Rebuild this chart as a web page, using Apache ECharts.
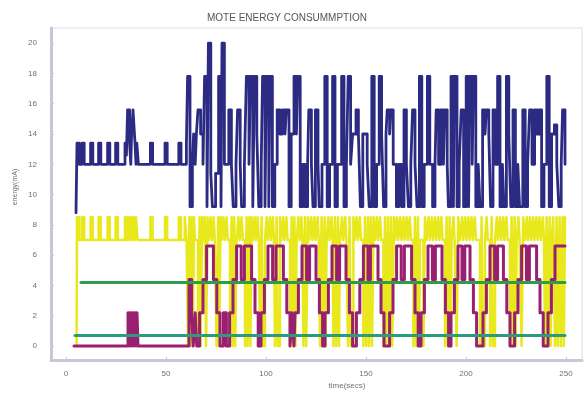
<!DOCTYPE html>
<html>
<head>
<meta charset="utf-8">
<script src="https://cdn.jsdelivr.net/npm/echarts@6/dist/echarts.min.js"></script>
<style>
  html, body { margin: 0; padding: 0; background: #fff; }
  #chart { width: 584px; height: 394px; }
</style>
</head>
<body>
<div id="chart"></div>
<script>
// tick labels
const xTicks = [0, 50, 100, 150, 200, 250];
const yTicks = [0, 2, 4, 6, 8, 10, 12, 14, 16, 18, 20];

// [time (s), energy (mA)] – value holds until the next point
const blueSteps = [
  [5, 8.8], [5.5, 13.4], [6.6, 12], [8, 13.4], [9.1, 12], [12.3, 13.4], [13.4, 12],
  [16.3, 13.4], [17.4, 12], [20.8, 13.4], [21.9, 12], [24.8, 13.4], [25.9, 12],
  [29.5, 13.4], [30.2, 12.6], [30.8, 15.6], [31.8, 13.4], [32.4, 12], [32.8, 14],
  [33.5, 15.6], [34.5, 13.4], [35, 12], [35.4, 13.4], [36.2, 12],
  [42.2, 13.4], [43.3, 12], [49.5, 13.4], [50.6, 12], [56.4, 13.4], [57.5, 12],
  [60.2, 13.4], [60.8, 17.8], [62, 9.2], [63.2, 12], [63.8, 14], [64.6, 12], [65.2, 14],
  [66, 15.6], [67.3, 14], [68.5, 12], [69.3, 17.8], [70.5, 9.2], [71.2, 20], [72.4, 11.4],
  [73.2, 9.2], [74.8, 11.4], [76.3, 17.8], [77.5, 9.2], [78, 20], [79.2, 12],
  [81.4, 15.6], [82.7, 12], [83.6, 9.2], [85, 12], [85.8, 15.6], [87.1, 12], [87.8, 9.2],
  [89.2, 12], [90.2, 17.8], [91.5, 12], [92.2, 17.8], [93.4, 9.2], [94.2, 17.8], [95.4, 14],
  [96.4, 9.2], [97.6, 12], [98.3, 17.8], [99.5, 9.2], [100.2, 17.8], [101.4, 9.2],
  [102, 17.8], [103.2, 9.2], [104.4, 12], [105.6, 15.6], [106.9, 14], [108.2, 15.6],
  [109.5, 14], [110.2, 15.6], [111.5, 9.2], [112.6, 14], [114, 17.8], [115.2, 14],
  [115.9, 17.8], [117.1, 9.2], [118.4, 12], [119.5, 9.2], [120.8, 12], [121.4, 15.6],
  [122.7, 12], [123.5, 9.2], [124.7, 15.6], [126, 12], [126.6, 9.2], [128, 12],
  [129.4, 17.8], [130.6, 9.2], [131.8, 12], [133.3, 17.8], [134.5, 9.2], [135.7, 12],
  [137.8, 17.8], [139, 9.2], [140.2, 12], [141.1, 17.8], [142.3, 12], [143.3, 14],
  [145, 15.6], [146.2, 14], [147.2, 9.2], [148.4, 14], [150.6, 12], [151.6, 9.2],
  [152.9, 17.8], [154.1, 9.2], [155.3, 12], [156.6, 17.8], [157.8, 14], [158.8, 9.2],
  [160, 14], [160.6, 15.6], [161.8, 14], [162.4, 15.6], [163.6, 12], [165.2, 9.2],
  [166.4, 12], [167.8, 9.2], [169, 15.6], [170.2, 12], [171.2, 9.2], [172.4, 12],
  [173.3, 15.6], [174.5, 12], [175.5, 9.2], [176.7, 17.8], [177.9, 9.2], [179.1, 12],
  [180.7, 17.8], [181.9, 12], [183.3, 9.2], [184.5, 12], [185.1, 15.6], [186.3, 12],
  [187.5, 15.6], [188.7, 12], [189.4, 15.6], [190.6, 12], [191.2, 9.2], [192.5, 17.8],
  [193.7, 9.2], [194.3, 17.8], [195.5, 9.2], [196.6, 12], [197.6, 15.6], [198.8, 9.2],
  [200.1, 17.8], [201.3, 9.2], [201.9, 17.8], [203.1, 12], [203.7, 17.8], [204.9, 9.2],
  [206.1, 12], [207, 9.2], [208.3, 15.6], [209.5, 14], [210.2, 15.6], [211.4, 14],
  [212.3, 9.2], [213.5, 15.6], [214.7, 12], [215.8, 17.8], [217, 9.2], [218.2, 12],
  [219, 9.2], [220.2, 17.8], [221.4, 14], [222.4, 9.2], [223.5, 15.6], [224.7, 9.2],
  [225.9, 12], [226.8, 9.2], [228.4, 15.6], [229.6, 9.2], [230.8, 12], [231.8, 15.6],
  [233, 12], [234.3, 15.6], [235.5, 14], [236.6, 15.6], [237.8, 9.2], [239, 12],
  [240.4, 17.8], [241.6, 9.2], [242.8, 14], [244.2, 14.6], [245.4, 12], [246.4, 9.2],
  [247.6, 12], [248.3, 15.6], [249.5, 12]
];

const yellowSteps = [
  [5.3, 0], [5.5, 8.5], [6.6, 7], [8, 8.5], [9.1, 7], [12.3, 8.5], [13.4, 7], [16.3, 8.5],
  [17.4, 7], [20.8, 8.5], [21.9, 7], [24.8, 8.5], [25.9, 7], [29.5, 8.5], [30.1, 7], [30.6, 8.5],
  [31.2, 7], [31.7, 8.5], [32.3, 7], [32.8, 8.5], [33.4, 7], [33.9, 8.5], [34.5, 7], [35, 8.5],
  [35.8, 7], [42.2, 8.5], [43.3, 7], [49.5, 8.5], [50.6, 7], [56.4, 8.5], [57.5, 7],
  [59.4, 8.5], [60.3, 7],
  [61, 0], [61.7, 8.5], [62.2, 0], [62.9, 8.5], [63.4, 0], [64, 8.5], [64.5, 7],
  [66, 0], [66.8, 8.5], [67.3, 0], [68.1, 8.5], [68.7, 7],
  [69.4, 8.5], [70, 0], [70.8, 8.5], [71.4, 7], [72.3, 8.5], [72.9, 7], [73.8, 8.5], [74.4, 7],
  [75.3, 0], [76.1, 8.5], [76.6, 0], [77.3, 8.5], [77.8, 7],
  [78.7, 8.5], [79.3, 7], [80.3, 8.5], [80.9, 7],
  [82, 0], [82.8, 8.5], [83.3, 0], [84.1, 8.5], [84.6, 0], [85.3, 7],
  [86.2, 8.5], [86.8, 7], [87.8, 8.5], [88.4, 7],
  [89.5, 0], [90.3, 8.5], [90.8, 0], [91.7, 8.5], [92.2, 0], [92.8, 8.5], [93.4, 7],
  [94.3, 8.5], [94.9, 7], [95.8, 8.5], [96.4, 7],
  [97, 0], [97.8, 8.5], [98.4, 0], [99.5, 7],
  [100.3, 8.5], [100.9, 7], [101.9, 8.5], [102.5, 7], [103.4, 8.5], [104, 7],
  [104.5, 0], [105.3, 8.5], [105.9, 0], [107, 8.5], [107.6, 7],
  [108.6, 8.5], [109.2, 7], [110.2, 8.5], [110.8, 7],
  [112, 0], [112.8, 8.5], [113.4, 0], [114.2, 8.5], [114.7, 0], [115.3, 7],
  [116.2, 8.5], [116.8, 7], [117.7, 8.5], [118.2, 7],
  [118.7, 0], [119.5, 8.5], [120.1, 0], [121, 8.5], [121.6, 7],
  [122.6, 8.5], [123.2, 7], [124.2, 8.5], [124.8, 7], [125.8, 8.5], [126.4, 7],
  [127, 0], [127.8, 8.5], [128.4, 0], [129.3, 8.5], [129.8, 0], [130.3, 7],
  [131.2, 8.5], [131.8, 7], [132.8, 8.5], [133.3, 7],
  [133.7, 0], [134.5, 8.5], [135.1, 0], [136, 8.5], [136.5, 0], [137, 7],
  [138, 8.5], [138.6, 7], [139.6, 8.5], [140.2, 7],
  [141, 0], [141.8, 8.5], [142.4, 0], [143.7, 8.5], [144.3, 7],
  [145.3, 8.5], [145.9, 7], [146.9, 8.5], [147.5, 7],
  [148.7, 0], [149.5, 8.5], [150.1, 0], [151, 8.5], [151.5, 0], [152.4, 8.5], [153, 0],
  [153.8, 8.5], [154.5, 7],
  [155.4, 8.5], [156, 7], [157, 8.5], [157.6, 7],
  [158.7, 0], [159.5, 8.5], [160.1, 0], [161, 8.5], [161.6, 0], [162.5, 8.5], [163.1, 0],
  [164, 8.5], [164.5, 7],
  [165.5, 8.5], [166.1, 7], [167.1, 8.5], [167.7, 7], [168.7, 8.5], [169.3, 7],
  [170.3, 8.5], [170.9, 7], [171.9, 8.5], [172.5, 7],
  [173.7, 0], [174.5, 8.5], [175.1, 0], [176, 8.5], [176.5, 0], [177, 7],
  [178.7, 0], [179.5, 8.5], [180.3, 7],
  [181.3, 8.5], [181.9, 7], [182.9, 8.5], [183.5, 7], [184.5, 8.5], [185.1, 7],
  [186.1, 8.5], [186.7, 7], [187.7, 8.5], [188.3, 7],
  [189.5, 0], [190.3, 8.5], [190.9, 0], [191.8, 8.5], [192.3, 0], [192.8, 7],
  [193.7, 8.5], [194.3, 7],
  [195.3, 0], [196.1, 8.5], [197, 7],
  [198, 8.5], [198.6, 7], [199.6, 8.5], [200.2, 7], [201.2, 8.5], [201.8, 7],
  [202.8, 8.5], [203.4, 7], [204.4, 8.5], [205, 7],
  [207, 0], [207.8, 8.5], [208.4, 0], [209.5, 7],
  [210.3, 8.5], [210.9, 7],
  [212, 0], [212.8, 8.5], [213.4, 0], [214.5, 7],
  [215.4, 8.5], [216, 7], [217, 8.5], [217.6, 7], [218.6, 8.5], [219.2, 7], [220.2, 8.5], [220.8, 7],
  [222, 0], [222.8, 8.5], [223.4, 0], [224.3, 8.5], [224.8, 0], [225.3, 7],
  [226.2, 8.5], [226.8, 7],
  [227.8, 0], [228.6, 8.5], [229.5, 7],
  [230.4, 8.5], [231, 7], [232, 8.5], [232.6, 7], [233.6, 8.5], [234.2, 7],
  [235.2, 8.5], [235.8, 7], [236.8, 8.5], [237.4, 7], [238.4, 8.5], [239, 7],
  [239.5, 0], [240.3, 8.5], [240.9, 0], [241.8, 8.5], [242.3, 0], [242.8, 7],
  [243.6, 8.5],
  [244.5, 0], [245.3, 8.5], [245.9, 0], [246.8, 8.5], [247.4, 0], [248.3, 8.5], [248.9, 0], [249.5, 8.5]
];

const purpleSteps = [
  [4, 0],
  [31, 2.2], [31.5, 0], [31.9, 2.2], [32.4, 0], [32.8, 2.2], [33.3, 0], [33.7, 2.2], [34.2, 0],
  [34.6, 2.2], [35.1, 0], [35.5, 2.2], [36, 0],
  [61.5, 4.4], [62.8, 2.2], [63.6, 0], [64.6, 2.2], [65.4, 0],
  [66.8, 2.2], [68.5, 4.4], [70.3, 6.6], [73.7, 4.4], [75.4, 2.2], [77, 0], [78.7, 2.2], [80.2, 0],
  [81.8, 2.2], [83.5, 4.4], [85.3, 6.6], [87.6, 4.4], [89.2, 6.6], [92.8, 4.4], [94.5, 2.2], [96.1, 0],
  [97.5, 2.2], [99.2, 4.4], [101, 6.6], [103.3, 4.4], [105, 6.6], [108.7, 4.4], [110.4, 2.2],
  [112, 0], [113, 2.2], [114, 0],
  [114.5, 2.2], [116.2, 4.4], [118, 6.6], [120.3, 4.4], [121.8, 6.6], [125, 4.4], [126.7, 2.2], [128.3, 0],
  [129.5, 2.2], [131.2, 4.4], [133, 6.6], [135.3, 4.4], [136.8, 6.6], [140, 4.4], [141.7, 2.2], [143.3, 0],
  [145.2, 2.2], [146.9, 4.4], [148.7, 6.6], [151, 4.4], [152.2, 6.6], [156, 4.4], [157.5, 2.2], [159, 0],
  [161.8, 2.2], [163.5, 4.4], [165.3, 6.6], [167.6, 4.4], [169.2, 6.6], [172.8, 4.4], [174.5, 2.2], [176.1, 0],
  [177.5, 2.2], [179.2, 4.4], [181, 6.6], [183.2, 4.4], [184.7, 6.6], [188, 4.4], [189.7, 2.2], [191.3, 0],
  [192.5, 2.2], [194.2, 4.4], [196, 6.6], [198, 4.4], [199.4, 6.6], [202, 4.4], [203.7, 2.2], [205.3, 0],
  [208.5, 2.2], [210.2, 4.4], [212, 6.6], [214.3, 4.4], [215.8, 6.6], [218.7, 4.4], [220.4, 2.2], [222, 0],
  [224.3, 2.2], [226, 4.4], [227.8, 6.6], [230.2, 4.4], [231.7, 6.6], [235.3, 4.4], [237, 2.2], [238.6, 0],
  [241, 2.2], [242.7, 4.4], [244.5, 6.6], [249.5, 6.6]
];

const greenHigh = [[7.5, 4.2], [249.5, 4.2]];
const greenLow = [[4.5, 0.7], [249.5, 0.7]];

const COLORS = {
  blue: '#2b2b83',
  yellow: '#e8e81c',
  purple: '#992070',
  green: '#2f9c4a',
  teal: '#2c9a80',
  axis: '#c4c6dc',
  text: '#707070'
};

function stepLine(name, data, color, width) {
  return {
    name: name,
    type: 'line',
    step: 'end',
    data: data,
    showSymbol: false,
    lineStyle: { color: color, width: width, cap: 'round', join: 'round' },
    animation: false
  };
}

const chart = echarts.init(document.getElementById('chart'));

chart.setOption({
  backgroundColor: '#fff',
  animation: false,
  title: {
    text: 'MOTE ENERGY CONSUMMPTION',
    left: 282,
    textAlign: 'center',
    top: 8,
    textStyle: { color: '#555', fontSize: 10, fontWeight: 'normal', fontFamily: 'Liberation Sans' }
  },
  grid: {
    left: 51, right: 2, top: 28, bottom: 34,
    show: true,
    borderColor: '#dcdde8',
    borderWidth: 1
  },
  xAxis: {
    type: 'value',
    min: -7.5,
    max: 258,
    splitLine: { show: false },
    axisLine: { onZero: false, lineStyle: { color: '#c8c9d4', width: 3 } },
    axisTick: { customValues: xTicks, inside: true, length: 3, lineStyle: { color: COLORS.axis } },
    axisLabel: {
      customValues: xTicks,
      color: COLORS.text, fontSize: 8, margin: 10, fontFamily: 'Liberation Sans'
    }
  },
  yAxis: {
    type: 'value',
    min: -0.92,
    max: 21,
    splitLine: { show: false },
    axisLine: { onZero: false, lineStyle: { color: COLORS.axis, width: 3 } },
    axisTick: { customValues: yTicks, inside: true, length: 3, lineStyle: { color: COLORS.axis } },
    axisLabel: {
      customValues: yTicks,
      color: COLORS.text, fontSize: 8, margin: 14, fontFamily: 'Liberation Sans'
    }
  },
  graphic: [
    {
      type: 'text',
      x: 15, y: 187,
      rotation: Math.PI / 2,
      style: {
        text: 'energy(mA)', fill: COLORS.text, fontSize: 7, fontFamily: 'Liberation Sans',
        textAlign: 'center', textVerticalAlign: 'middle'
      }
    },
    {
      type: 'text',
      x: 347, y: 386,
      style: {
        text: 'time(secs)', fill: COLORS.text, fontSize: 8, fontFamily: 'Liberation Sans',
        textAlign: 'center', textVerticalAlign: 'middle'
      }
    }
  ],
  series: [
    stepLine('yellow', yellowSteps, COLORS.yellow, 2.5),
    stepLine('purple', purpleSteps, COLORS.purple, 3),
    stepLine('greenHigh', greenHigh, COLORS.green, 3),
    stepLine('greenLow', greenLow, COLORS.teal, 3),
    stepLine('blue', blueSteps, COLORS.blue, 2.8)
  ]
});
</script>
</body>
</html>
